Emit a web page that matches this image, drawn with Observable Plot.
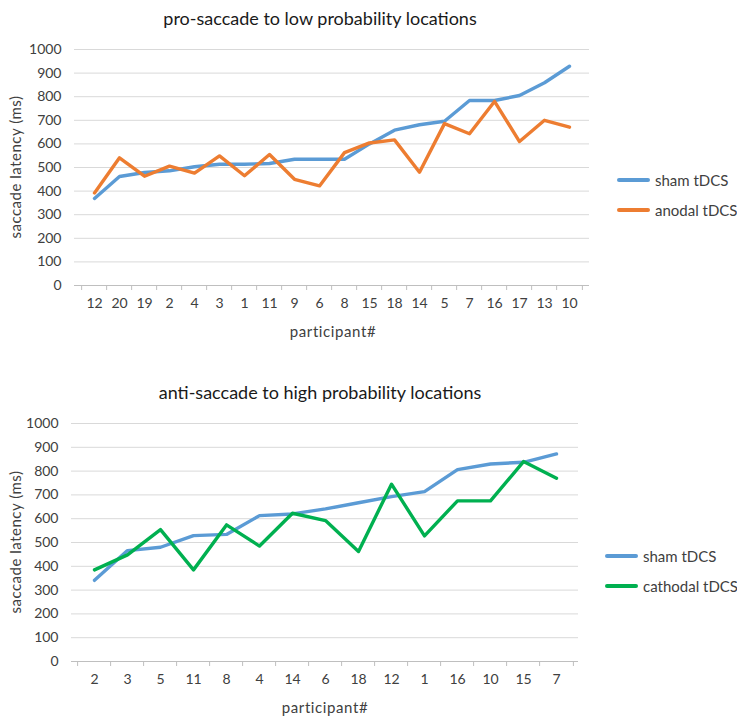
<!DOCTYPE html>
<html>
<head>
<meta charset="utf-8">
<script src="https://cdn.jsdelivr.net/npm/d3@7"></script>
<script src="https://cdn.jsdelivr.net/npm/@observablehq/plot@0.6"></script>
<style>
  html, body { margin: 0; padding: 0; background: #fff; }
  #root { position: relative; width: 737px; height: 719px; background: #fff; font-family: Lato, "Open Sans", sans-serif; color: #404040; overflow: hidden; }
  .abs { position: absolute; white-space: nowrap; }
  .title { font-size: 18px; color: #1a1a1a; transform: translate(-50%, -50%); }
  .xlab { font-size: 15px; letter-spacing: 0.6px; color: #404040; transform: translate(-50%, -50%); }
  .ylab { font-size: 15px; letter-spacing: 0.5px; color: #404040; transform: translate(-50%, -50%) rotate(-90deg); }
  .leg { font-size: 15px; color: #404040; transform: translateY(-50%); }
  .legline { position: absolute; height: 4px; transform: translateY(-50%); border-radius: 2px; }
</style>
</head>
<body>
<div id="root"></div>
<script>
// ---- data ----
const topCategories = ["12","20","19","2","4","3","1","11","9","6","8","15","18","14","5","7","16","17","13","10"];
const topSham   = [369,462,479,486,503,514,514,517,535,535,535,600,658,681,696,784,784,805,859,929];
const topAnodal = [392,541,463,506,476,549,465,555,450,422,563,604,617,480,686,643,780,610,700,671];

const bottomCategories = ["2","3","5","11","8","4","14","6","18","12","1","16","10","15","7"];
const bottomSham     = [341,466,480,529,534,613,620,641,667,693,714,806,830,837,872];
const bottomCathodal = [385,448,554,385,574,485,623,592,462,745,528,675,675,840,770];

const yTicks = d3.range(0, 1001, 100);

const topTitle = "pro-saccade to low probability locations";
const bottomTitle = "anti-saccade to high probability locations";
const yLabel = "saccade latency (ms)";
const xLabel = "participant#";

const colors = { sham: "#5B9BD5", anodal: "#ED7D31", cathodal: "#00B050" };

const root = document.getElementById("root");

function addText(cls, text, x, y) {
  const d = document.createElement("div");
  d.className = "abs " + cls;
  d.textContent = text;
  d.style.left = x + "px";
  d.style.top = y + "px";
  root.appendChild(d);
}
function addLegend(x, y, color, text) {
  const l = document.createElement("div");
  l.className = "legline";
  l.style.left = x + "px";
  l.style.top = y + "px";
  l.style.width = "33px";
  l.style.background = color;
  root.appendChild(l);
  addText("leg", text, x + 38, y);
}

function makeChart({categories, series, top, height, mt, mb, ml, mr}) {
  const width = 737;
  const n = categories.length;
  const step = (width - ml - mr) / n;
  const rows = [];
  for (const s of series) {
    s.values.forEach((v, i) => rows.push({cat: categories[i], v, name: s.name}));
  }
  const chart = Plot.plot({
    width, height,
    marginTop: mt, marginBottom: mb, marginLeft: ml, marginRight: mr,
    style: { fontFamily: "Lato, 'Open Sans', sans-serif", fontSize: "14px", color: "#404040", background: "transparent", overflow: "visible" },
    x: { type: "point", domain: categories, padding: 0.5, align: 0.5 },
    y: { domain: [0, 1000] },
    marks: [
      Plot.gridY(yTicks.filter(t => t > 0), { stroke: "#d9d9d9", strokeOpacity: 1, strokeWidth: 1 }),
      Plot.ruleY([0], { stroke: "#bfbfbf", strokeWidth: 1 }),
      Plot.axisY({ ticks: yTicks, tickSize: 0, tickPadding: 13, label: null, fontSize: 14, tickFormat: d => String(d) }),
      Plot.axisX({ tickSize: 0, tickPadding: 13, label: null, fontSize: 14 }),
      Plot.axisX({ tickSize: 5, dx: -step / 2, tickFormat: () => "", stroke: "#bfbfbf", label: null }),
      Plot.axisX({ ticks: [categories[n - 1]], tickSize: 5, dx: step / 2, tickFormat: () => "", stroke: "#bfbfbf", label: null }),
      ...series.map(s => Plot.line(rows.filter(r => r.name === s.name), {
        x: "cat", y: "v", stroke: s.color, strokeWidth: 3.4, strokeLinejoin: "round", strokeLinecap: "round"
      }))
    ]
  });
  chart.style.position = "absolute";
  chart.style.left = "0px";
  chart.style.top = top + "px";
  root.appendChild(chart);
}

// top chart
addText("title", topTitle, 320, 18);
makeChart({
  categories: topCategories,
  series: [
    { name: "sham", values: topSham, color: colors.sham },
    { name: "anodal", values: topAnodal, color: colors.anodal }
  ],
  top: 40, height: 300, mt: 9, mb: 55, ml: 74, mr: 148
});
addText("ylab", yLabel, 15, 167);
addText("xlab", xLabel, 333, 331);
addLegend(617, 180, colors.sham, "sham tDCS");
addLegend(617, 210, colors.anodal, "anodal tDCS");

// bottom chart
addText("title", bottomTitle, 320, 392);
makeChart({
  categories: bottomCategories,
  series: [
    { name: "sham", values: bottomSham, color: colors.sham },
    { name: "cathodal", values: bottomCathodal, color: colors.cathodal }
  ],
  top: 410, height: 300, mt: 13, mb: 49, ml: 71, mr: 159
});
addText("ylab", yLabel, 15, 542);
addText("xlab", xLabel, 325, 707);
addLegend(605, 556, colors.sham, "sham tDCS");
addLegend(605, 586, colors.cathodal, "cathodal tDCS");
</script>
</body>
</html>
